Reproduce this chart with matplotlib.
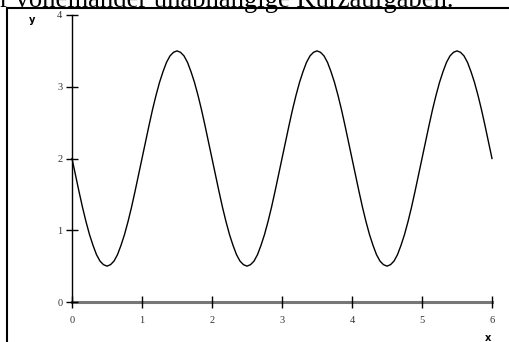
import matplotlib
matplotlib.use("Agg")
import matplotlib.pyplot as plt
from matplotlib.lines import Line2D

W, H = 509, 342
DPI = 100

period_y = [2.00, 1.77, 1.54, 1.32, 1.12, 0.94, 0.79, 0.66, 0.57, 0.52,
            0.50, 0.52, 0.57, 0.66, 0.79, 0.94, 1.12, 1.32, 1.54, 1.77,
            2.00, 2.23, 2.46, 2.68, 2.88, 3.06, 3.21, 3.34, 3.43, 3.48,
            3.50, 3.48, 3.43, 3.34, 3.21, 3.06, 2.88, 2.68, 2.46, 2.23]
y_vals = period_y + period_y + period_y + [2.00]
x_vals = [round(0.05 * i, 2) for i in range(len(y_vals))]
x_ticks = [0, 1, 2, 3, 4, 5, 6]
y_ticks = [0, 1, 2, 3, 4]
title_text = "r voneinander unabhängige Kurzaufgaben."

fig = plt.figure(figsize=(W / DPI, H / DPI), dpi=DPI)
fig.patch.set_facecolor("white")

def fx(px):
    return px / W

def fy(py):
    return (H - py) / H

ax = fig.add_axes([fx(72), fy(302), fx(492) - fx(72), fy(15) - fy(302)])
ax.plot(x_vals, y_vals, color="black", lw=1.0, clip_on=False)
ax.set_xlim(0, 6)
ax.set_ylim(0, 4)
for s in ["top", "right"]:
    ax.spines[s].set_visible(False)
ax.spines["left"].set_color("black")
ax.spines["left"].set_linewidth(1.0)
ax.spines["bottom"].set_color("#777777")
ax.spines["bottom"].set_linewidth(2.2)
ax.spines["bottom"].set_zorder(1)
ax.set_xticks(x_ticks)
ax.set_yticks(y_ticks)
ax.set_xticklabels([str(t) for t in x_ticks])
ax.set_yticklabels([str(t) for t in y_ticks])
ax.tick_params(axis="both", direction="inout", length=8, width=1.0,
               color="black", labelsize=7.5, labelcolor="#333333")
ax.tick_params(axis="x", pad=6)
ax.tick_params(axis="y", pad=3)
for lab in ax.get_xticklabels() + ax.get_yticklabels():
    lab.set_family("Liberation Serif")

fig.text(fx(32), fy(20), "y", fontsize=7, fontweight="bold",
         family="DejaVu Sans", ha="center", va="center")
fig.text(fx(488), fy(338), "x", fontsize=7, fontweight="bold",
         family="DejaVu Sans", ha="center", va="center")

fig.text(fx(0), fy(7), title_text, fontsize=19.2, family="Liberation Serif",
         ha="left", va="baseline")

fig.add_artist(Line2D([fx(7), fx(509)], [fy(8), fy(8)], color="black", lw=1.5))
fig.add_artist(Line2D([fx(7), fx(7)], [fy(8), fy(342)], color="black", lw=1.5))

fig.savefig("out.png", dpi=DPI)
